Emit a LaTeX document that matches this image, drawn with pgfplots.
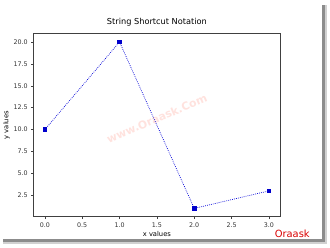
\documentclass[border=0pt]{standalone}
\usepackage{pgfplots}
\pgfplotsset{compat=1.18}
\usepackage{fontspec}
\setmainfont{DejaVu Sans}
\setsansfont{DejaVu Sans}
\begin{document}
\begin{tikzpicture}[x=1pt,y=1pt]
\path[fill=white] (0,0) rectangle (330,250);
% shadow frame
\fill[black!45] (322,5) rectangle (325,245);
\fill[black!45] (0,5) rectangle (325,8);
\fill[black!18] (325,4) rectangle (327,245);
\fill[black!18] (0,3) rectangle (327,5);
\begin{axis}[
  at={(40.5,35)}, anchor=south west,
  scale only axis, width=249, height=185,
  xmin=-0.15, xmax=3.15, ymin=0.05, ymax=20.95,
  xtick={0,0.5,...,3}, ytick={2.5,5,...,20},
  xticklabel style={/pgf/number format/fixed,/pgf/number format/fixed zerofill,/pgf/number format/precision=1},
  yticklabel style={/pgf/number format/fixed,/pgf/number format/fixed zerofill,/pgf/number format/precision=1},
  /pgf/number format/assume math mode=true,
  tick label style={font=\fontsize{6.4}{7.5}\selectfont, text=black!80},
  label style={font=\fontsize{6.8}{8}\selectfont},
  title style={font=\fontsize{8.3}{10}\selectfont, yshift=-2.5pt},
  title={String Shortcut Notation},
  xlabel={x values}, ylabel={y values},
  xlabel style={yshift=3pt}, ylabel style={yshift=-3pt},
  tick align=outside, major tick length=2.5pt,
  xtick pos=bottom, ytick pos=left,
  axis line style={black!75, line width=0.5pt},
  every tick/.style={black!75, line width=0.5pt},
]
\addplot[blue!85!black, dash pattern=on 0.8pt off 1.2pt, line width=0.7pt, mark=square*, mark size=1.8pt, mark options={solid, fill=blue!80!black, draw=blue!80!black}]
  coordinates {(0,10) (1,20) (2,1) (3,3)};
\end{axis}
\node[rotate=23, text=red!70!orange, opacity=0.13, font=\bfseries\fontsize{11}{13}\selectfont] at (155,130) {www.Oraask.Com};
\node[text=red!85!black, font=\fontsize{10}{12}\selectfont, anchor=east] at (313,14) {Oraask};
\end{tikzpicture}
\end{document}
